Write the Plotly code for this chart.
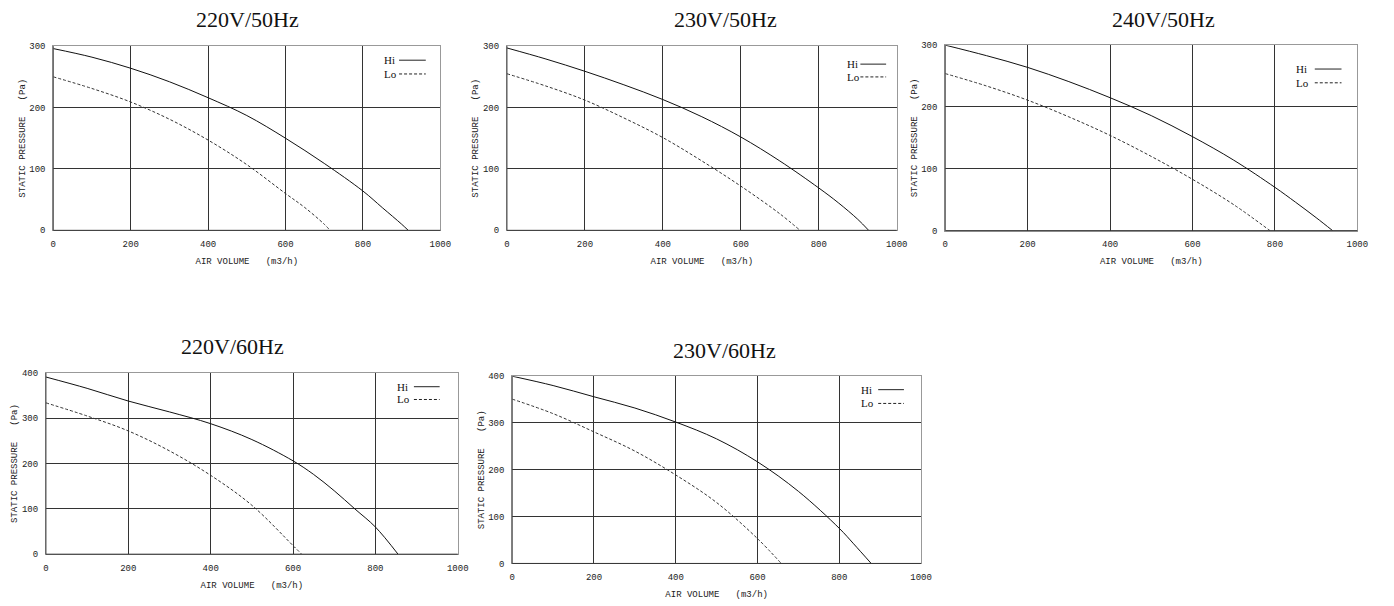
import plotly.graph_objects as go

W, H = 1394, 606

# ---------------- data ----------------
titles = ["220V/50Hz", "230V/50Hz", "240V/50Hz", "220V/60Hz", "230V/60Hz"]

hi_x_220_50 = [0, 100, 200, 300, 400, 500, 600, 700, 800, 850, 900, 917]
hi_y_220_50 = [296, 282, 264, 242, 216, 187, 150, 109, 64, 37, 10, 0]
lo_x_220_50 = [0, 100, 200, 300, 400, 500, 600, 650, 700, 715]
lo_y_220_50 = [250, 231, 209, 181, 147, 107, 60, 37, 10, 0]

hi_x_230_50 = [0, 100, 200, 300, 400, 500, 600, 700, 800, 850, 900, 928]
hi_y_230_50 = [297, 279, 259, 237, 213, 185, 152, 113, 69, 45, 18, 0]
lo_x_230_50 = [0, 100, 200, 300, 400, 500, 600, 700, 752]
lo_y_230_50 = [255, 235, 212, 183, 151, 113, 72, 27, 0]

hi_x_240_50 = [0, 100, 200, 300, 400, 500, 600, 700, 800, 850, 900, 940]
hi_y_240_50 = [300, 283, 264, 241, 215, 186, 152, 114, 70, 46, 21, 0]
lo_x_240_50 = [0, 100, 200, 300, 400, 500, 600, 700, 788]
lo_y_240_50 = [254, 234, 211, 184, 154, 120, 83, 42, 0]

hi_x_220_60 = [0, 100, 200, 300, 400, 500, 600, 650, 700, 750, 800, 855]
hi_y_220_60 = [391, 366, 338, 314, 288, 253, 206, 176, 140, 100, 60, 0]
lo_x_220_60 = [0, 100, 200, 300, 400, 500, 600, 621]
lo_y_220_60 = [334, 305, 272, 228, 174, 108, 19, 0]

hi_x_230_60 = [0, 100, 200, 300, 400, 500, 600, 700, 800, 835, 878]
hi_y_230_60 = [400, 380, 356, 332, 302, 266, 217, 154, 75, 42, 0]
lo_x_230_60 = [0, 100, 200, 300, 400, 500, 600, 658]
lo_y_230_60 = [351, 320, 281, 240, 189, 130, 53, 0]

x_ticks = [0, 200, 400, 600, 800, 1000]
y_max = [300, 300, 300, 400, 400]
series_names = ["Hi", "Lo"]
x_title = "AIR VOLUME\u00a0\u00a0\u00a0(m3/h)"
y_title = "STATIC PRESSURE\u00a0\u00a0\u00a0(Pa)"

panels_data = [
    (hi_x_220_50, hi_y_220_50, lo_x_220_50, lo_y_220_50),
    (hi_x_230_50, hi_y_230_50, lo_x_230_50, lo_y_230_50),
    (hi_x_240_50, hi_y_240_50, lo_x_240_50, lo_y_240_50),
    (hi_x_220_60, hi_y_220_60, lo_x_220_60, lo_y_220_60),
    (hi_x_230_60, hi_y_230_60, lo_x_230_60, lo_y_230_60),
]

# ---------------- layout (pixel boxes in the target picture) ----------------
boxes = [  # left, right, top, bottom in px
    (50.7, 441.7, 42.7, 230.0),
    (509.0, 902.7, 42.7, 230.0),
    (951.7, 1368.0, 41.7, 230.3),
    (43.3, 459.3, 375.0, 559.3),
    (514.3, 927.3, 378.3, 568.7),
]
title_pos = [(247, 16), (730, 16), (1172, 16), (232, 348), (729, 352)]
legend_pos = [  # text x, line x0, line x1, hi y, lo y
    (383, 400, 427, 57, 71),
    (850, 866, 892, 61, 74),
    (1304, 1325, 1352, 66, 80),
    (396, 415, 441, 389, 402),
    (865, 884, 910, 392, 406),
]
OFF = 8  # page body margin

def px(x):
    return (x - OFF) / W

def py(y):
    return 1 - (y - OFF) / H

fig = go.Figure()
tick_font = dict(family="Liberation Mono", size=9, color="#222")
annotations = []
shapes = []

for i, (hx, hy, lx, ly) in enumerate(panels_data):
    n = "" if i == 0 else str(i + 1)
    xa, ya = "x" + n, "y" + n
    fig.add_trace(go.Scatter(x=hx, y=hy, mode="lines", xaxis=xa, yaxis=ya,
                             line=dict(color="#111", width=1, shape="spline", smoothing=1),
                             showlegend=False, name=series_names[0]))
    fig.add_trace(go.Scatter(x=lx, y=ly, mode="lines", xaxis=xa, yaxis=ya,
                             line=dict(color="#333", width=1, dash="3px,2px", shape="spline", smoothing=1),
                             showlegend=False, name=series_names[1]))
    l, r, t, b = boxes[i]
    fig.layout["xaxis" + n] = dict(
        domain=[px(l), px(r)], anchor=ya, range=[0, 1000], tickvals=x_ticks,
        showgrid=True, gridcolor="#333", gridwidth=1,
        zeroline=False, showline=True, linecolor="#999", linewidth=1, mirror=True,
        ticks="", tickfont=tick_font, fixedrange=True, ticklabelstandoff=5,
        title=dict(text=x_title, font=tick_font, standoff=8),
    )
    fig.layout["yaxis" + n] = dict(
        domain=[py(b), py(t)], anchor=xa, range=[0, y_max[i]], dtick=100,
        showgrid=True, gridcolor="#333", gridwidth=1,
        zeroline=False, showline=True, linecolor="#999", linewidth=1, mirror=True,
        ticks="", tickfont=tick_font, fixedrange=True, ticklabelstandoff=5,
        title=dict(text=y_title, font=tick_font, standoff=2),
    )
    shapes.append(dict(type="line", xref=xa + " domain", yref=ya + " domain",
                       x0=0, x1=1, y0=0, y1=0, line=dict(color="#333", width=1)))
    shapes.append(dict(type="line", xref=xa + " domain", yref=ya + " domain",
                       x0=0, x1=0, y0=0, y1=1, line=dict(color="#444", width=1)))

    tx, ty = title_pos[i]
    annotations.append(dict(text=titles[i], x=px(tx), y=py(ty), xref="paper", yref="paper",
                            showarrow=False, xanchor="center", yanchor="middle",
                            font=dict(family="Liberation Serif", size=22, color="#111")))
    lt, lx0, lx1, hiy, loy = legend_pos[i]
    for name, yy, dash in ((series_names[0], hiy, "solid"), (series_names[1], loy, "3px,2px")):
        annotations.append(dict(text=name, x=px(lt), y=py(yy), xref="paper", yref="paper",
                                showarrow=False, xanchor="left", yanchor="middle",
                                font=dict(family="Liberation Serif", size=11, color="#111")))
        shapes.append(dict(type="line", xref="paper", yref="paper",
                           x0=px(lx0), x1=px(lx1), y0=py(yy), y1=py(yy),
                           line=dict(color="#222", width=1, dash=dash)))

fig.update_layout(
    width=W, height=H, margin=dict(l=0, r=0, t=0, b=0),
    paper_bgcolor="white", plot_bgcolor="white",
    annotations=annotations, shapes=shapes, showlegend=False,
)

fig.write_html("out.html", config={"displayModeBar": False})
